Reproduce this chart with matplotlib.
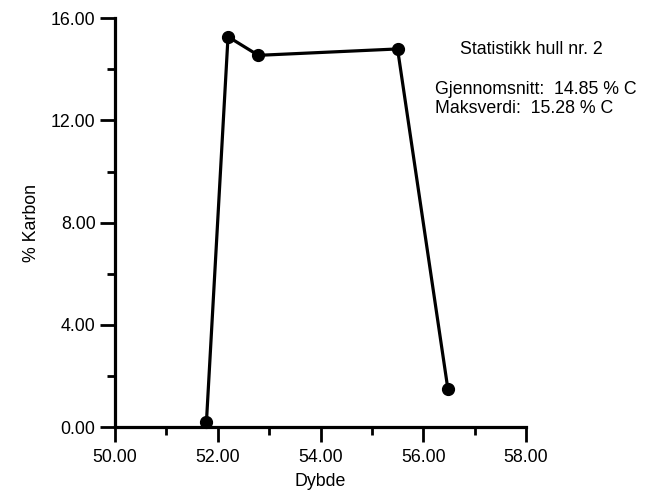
import matplotlib.pyplot as plt
from matplotlib.ticker import FormatStrFormatter, MultipleLocator

plt.rcParams['font.family'] = ['Liberation Sans', 'DejaVu Sans']

# data
dybde = [51.78, 52.20, 52.79, 55.50, 56.48]
karbon = [0.20, 15.28, 14.55, 14.80, 1.48]

title_txt = "Statistikk hull nr. 2"
snitt_txt = "Gjennomsnitt:  14.85 % C"
maks_txt = "Maksverdi:  15.28 % C"

fig = plt.figure(figsize=(6.51, 4.94), dpi=100)
ax = fig.add_axes([115 / 651, 67 / 494, 411 / 651, 408.7 / 494])

ax.plot(dybde, karbon, color="black", lw=2.3, marker="o", ms=8.5,
        clip_on=False, zorder=3)

ax.set_xlim(50, 58)
ax.set_ylim(0, 16)
ax.xaxis.set_major_locator(MultipleLocator(2))
ax.xaxis.set_minor_locator(MultipleLocator(1))
ax.yaxis.set_major_locator(MultipleLocator(4))
ax.yaxis.set_minor_locator(MultipleLocator(2))
ax.xaxis.set_major_formatter(FormatStrFormatter("%.2f"))
ax.yaxis.set_major_formatter(FormatStrFormatter("%.2f"))

for side in ["top", "right"]:
    ax.spines[side].set_visible(False)
for side in ["left", "bottom"]:
    ax.spines[side].set_linewidth(2.3)

ax.tick_params(which="major", length=11, width=2, labelsize=12.8)
ax.tick_params(axis="x", which="major", pad=5)
ax.tick_params(axis="y", which="major", pad=3)
ax.tick_params(which="minor", length=6, width=2)

ax.set_xlabel("Dybde", fontsize=12.8, labelpad=5)
ax.set_ylabel("% Karbon", fontsize=12.8, labelpad=8)

ax.text(531 / 651, 1 - 50 / 494, title_txt, transform=fig.transFigure,
        ha="center", va="center", fontsize=12.8)
ax.text(435 / 651, 1 - 89 / 494, snitt_txt, transform=fig.transFigure,
        ha="left", va="center", fontsize=12.8)
ax.text(435 / 651, 1 - 108 / 494, maks_txt, transform=fig.transFigure,
        ha="left", va="center", fontsize=12.8)

fig.savefig("out.png", dpi=100)
